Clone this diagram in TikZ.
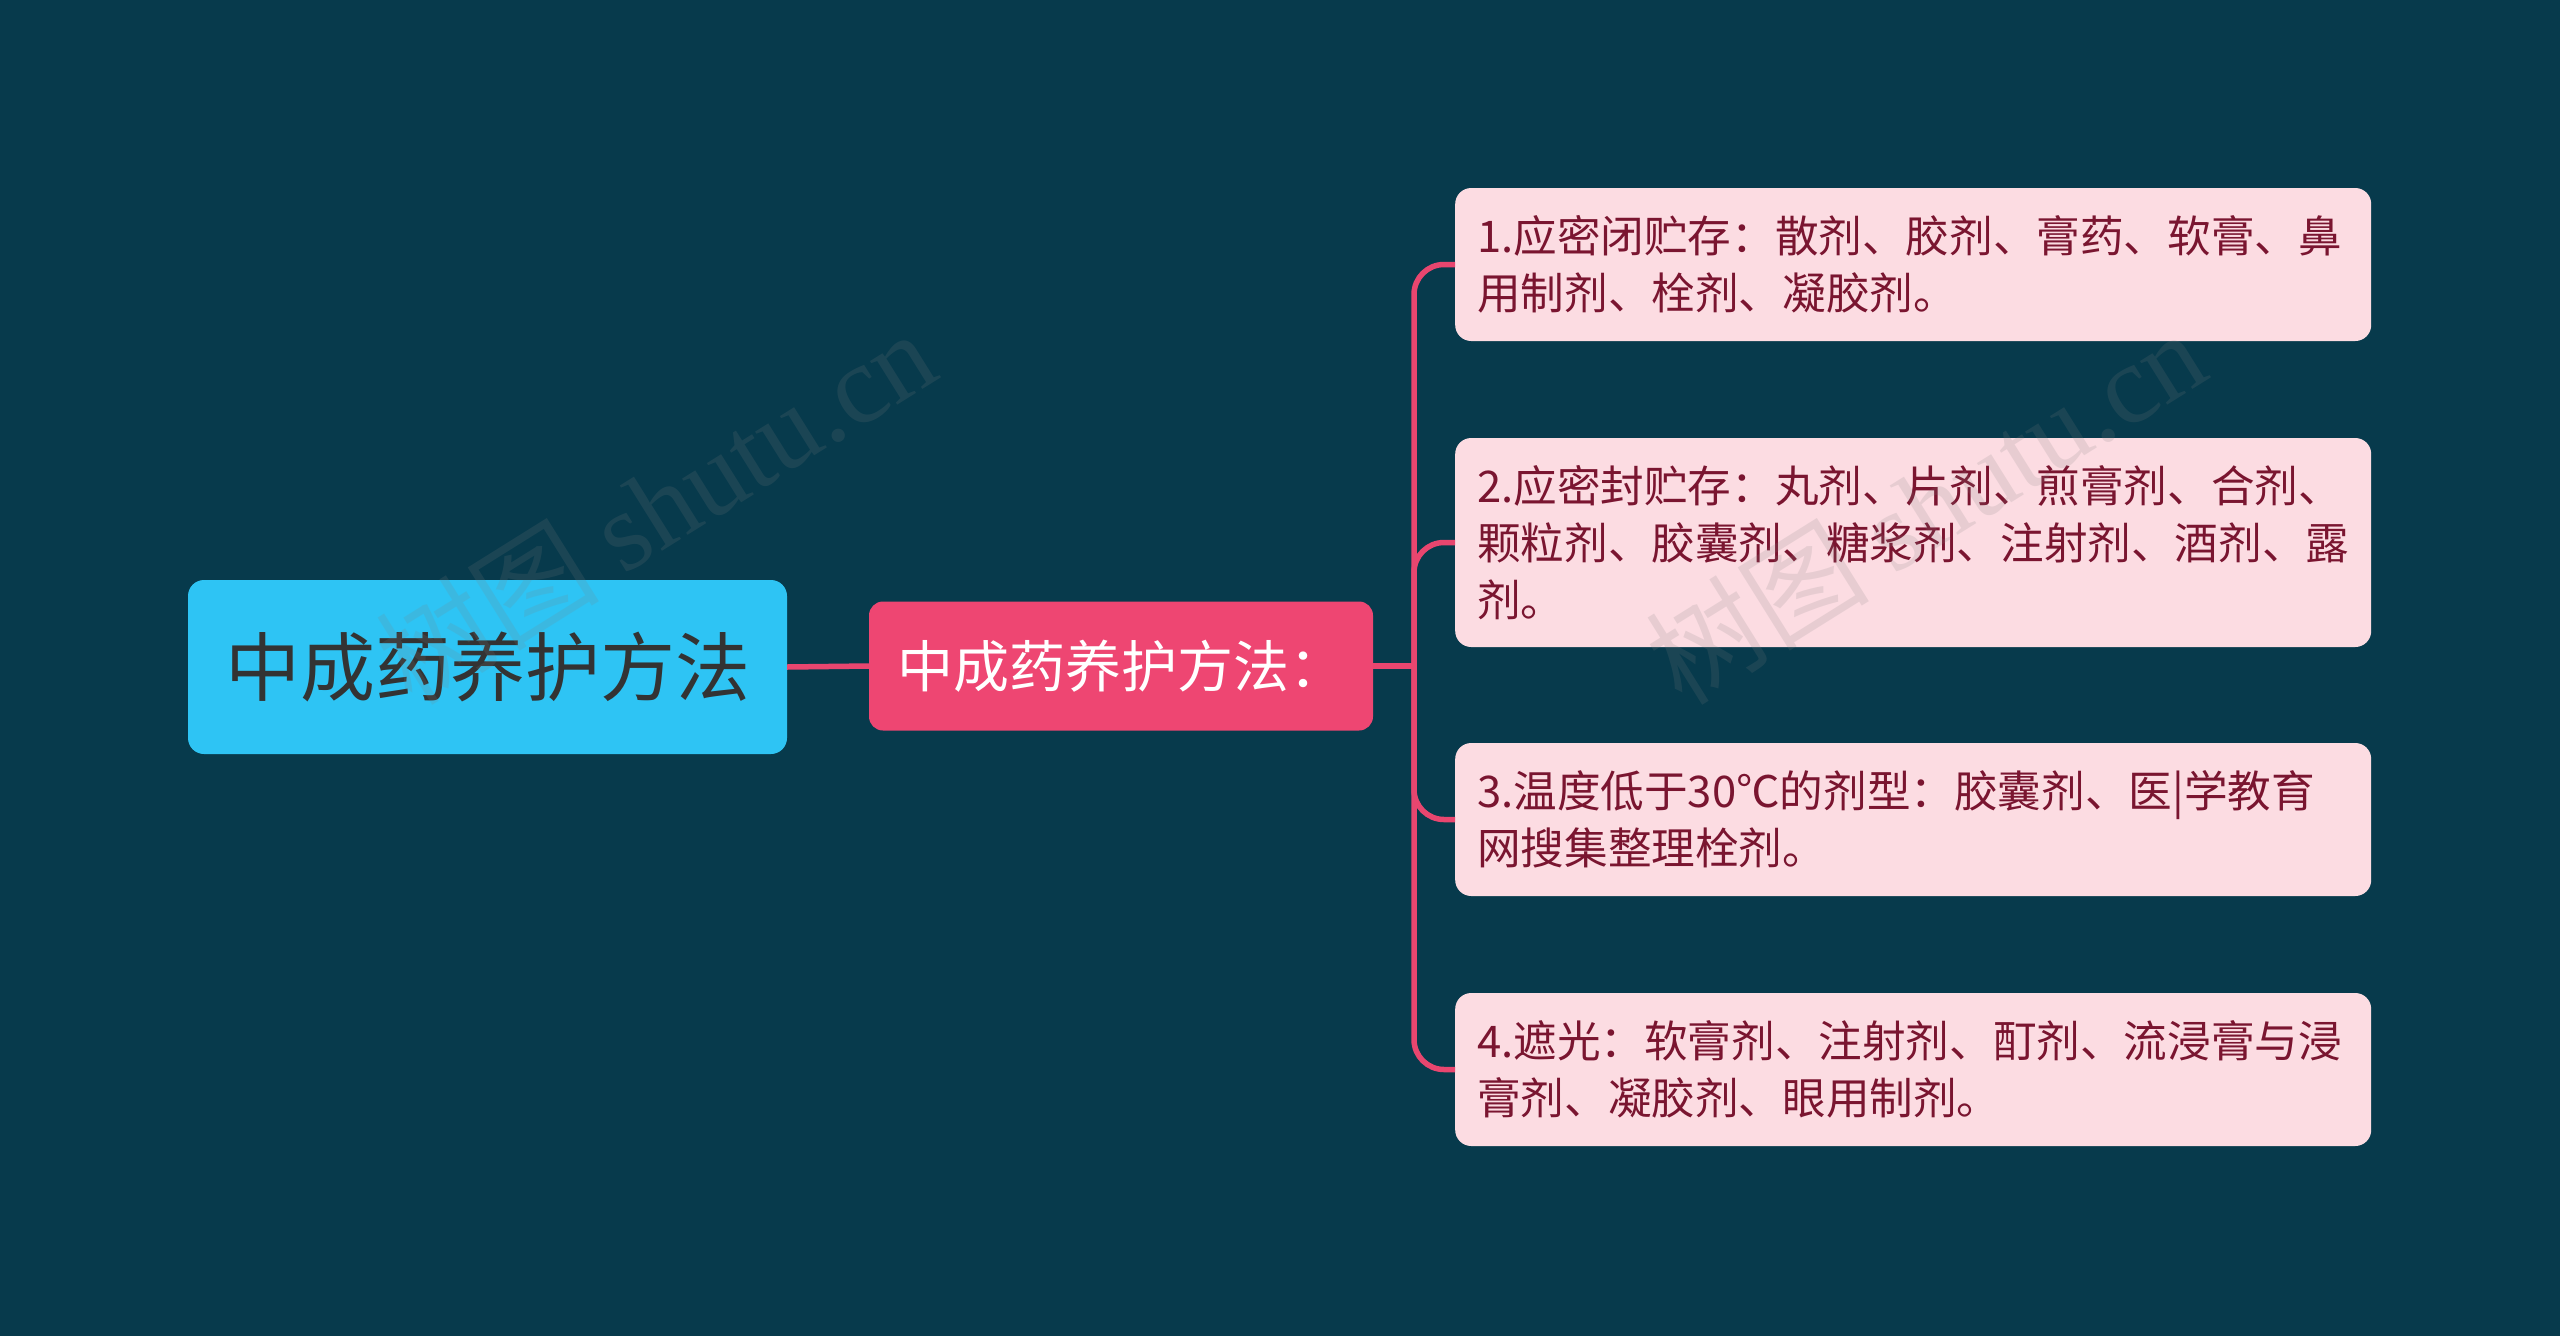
\documentclass[tikz,border=0pt]{standalone}
\usepackage{fontspec}
\setmainfont{Noto Sans CJK SC}
\newfontfamily\wmserif{Liberation Serif}
\definecolor{bgc}{HTML}{073A4C}
\definecolor{rootc}{HTML}{2EC4F4}
\definecolor{midc}{HTML}{EE4672}
\definecolor{leafc}{HTML}{FCDCE2}
\definecolor{leaftxt}{HTML}{7A1530}
\definecolor{linec}{HTML}{E8466F}
\begin{document}
\begin{tikzpicture}[x=1pt,y=-1pt,
  rootbox/.style={fill=rootc, rounded corners=16pt, minimum width=599pt, minimum height=174pt, inner sep=0pt, text=black!80, font=\fontsize{75}{88}\selectfont},
  midbox/.style={fill=midc, rounded corners=14pt, minimum width=504pt, minimum height=129pt, inner sep=0pt, text=white, font=\fontsize{56}{66}\selectfont},
  leafbox/.style={fill=leafc, rounded corners=16pt, minimum width=916pt, text width=872pt, inner xsep=22pt, inner ysep=0pt, align=left, anchor=west, text=leaftxt, font=\fontsize{43.6}{57}\selectfont},
  conn/.style={draw=linec, line width=5.5pt},
  wmark/.style={text=gray, opacity=0.17, font=\fontsize{112}{120}\selectfont, rotate=32}
]
\fill[bgc] (0,0) rectangle (2560,1336);
\useasboundingbox (0,0) rectangle (2560,1336);

\node[rootbox] (root) at (487.5,667) {中成药养护方法};
\node[midbox] (mid) at (1121,666) {中成药养护方法：};

\node[leafbox, minimum height=153pt] (l1) at (1455,264.5) {1.应密闭贮存：散剂、胶剂、膏药、软膏、鼻\\用制剂、栓剂、凝胶剂。};
\node[leafbox, minimum height=209pt] (l2) at (1455,542.5) {2.应密封贮存：丸剂、片剂、煎膏剂、合剂、\\颗粒剂、胶囊剂、糖浆剂、注射剂、酒剂、露\\剂。};
\node[leafbox, minimum height=153pt] (l3) at (1455,819.5) {3.温度低于30℃的剂型：胶囊剂、医|学教育\\网搜集整理栓剂。};
\node[leafbox, minimum height=153pt] (l4) at (1455,1069.5) {4.遮光：软膏剂、注射剂、酊剂、流浸膏与浸\\膏剂、凝胶剂、眼用制剂。};

\coordinate (bus) at (1414,666);
\draw[conn] (root.east) -- (mid.west);
\draw[conn] (mid.east) -- (bus);
\foreach \l in {l1,l2,l3,l4}{
  \draw[conn, rounded corners=30pt] (bus) |- (\l.west);
}

\node[wmark] (w1) at (655,506) {树图 {\wmserif shutu.cn}};
\node[wmark] (w2) at (1925,506) {树图 {\wmserif shutu.cn}};
\end{tikzpicture}
\end{document}
